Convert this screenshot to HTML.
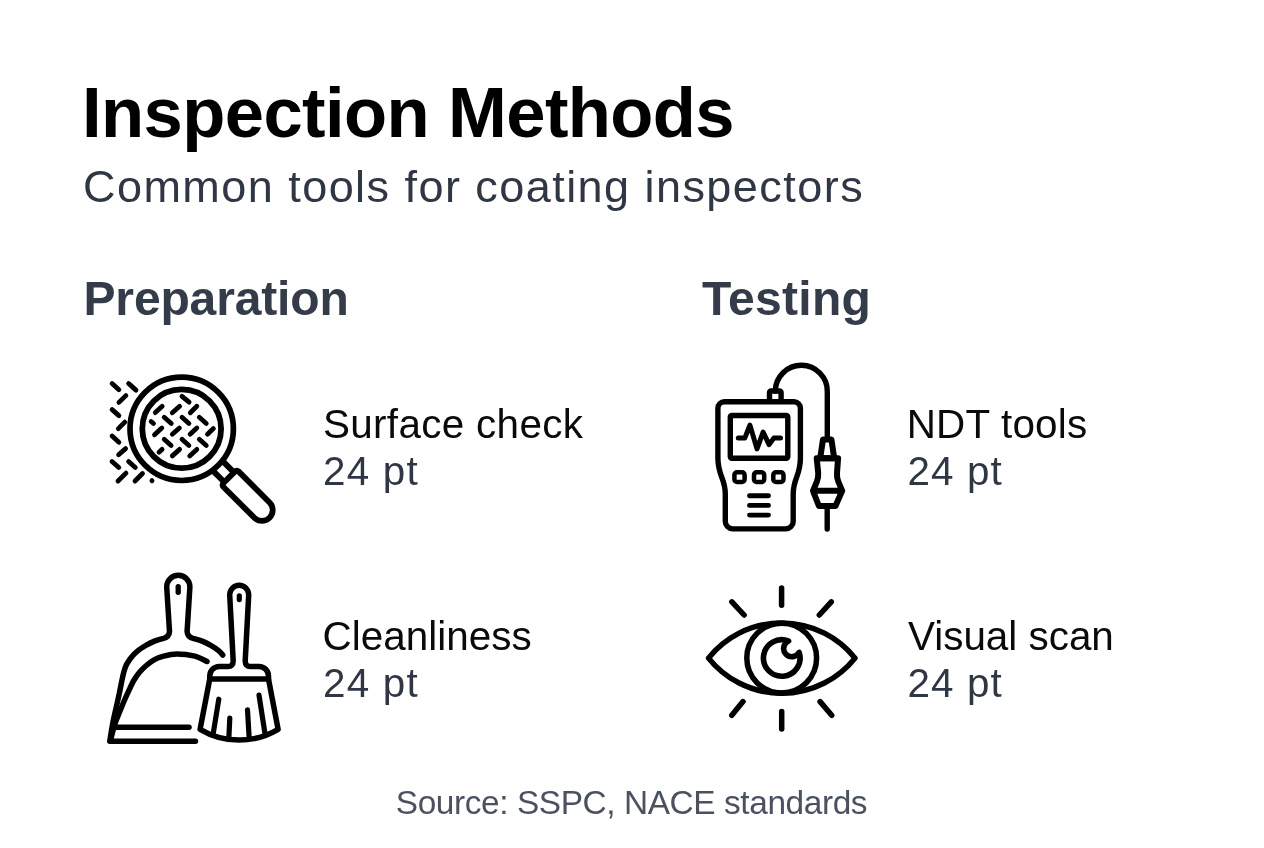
<!DOCTYPE html>
<html lang="en">
<head>
<meta charset="utf-8">
<title>Inspection Methods</title>
<style>
  html, body { margin: 0; padding: 0; }
  body {
    width: 1264px; height: 848px; overflow: hidden; position: relative;
    background: #ffffff;
    font-family: "Liberation Sans", sans-serif;
    color: #000;
  }
  .t { position: absolute; white-space: nowrap; line-height: 1; margin: 0; font-weight: 400; }
  h1.t { font-weight: 700; font-size: 70.6px; left: 82px; top: 78px; color: #000; letter-spacing: -0.6px; }
  .sub { font-size: 45px; left: 83px; top: 164px; color: #2f3745; letter-spacing: 1.45px; }
  h2.t { font-weight: 700; font-size: 48px; color: #343b49; top: 275px; }
  .lbl { font-size: 40.4px; color: #0a0a0a; }
  .val { font-size: 40.4px; color: #2f3745; }
  .foot { font-size: 33.4px; color: #4a5160; left: 395.8px; top: 785.5px; letter-spacing: -0.4px; }
  svg.ic { position: absolute; left: 0; top: 0; overflow: visible; }
</style>
</head>
<body>
  <h1 class="t" id="title">Inspection Methods</h1>
  <p class="t sub" id="sub">Common tools for coating inspectors</p>

  <h2 class="t" id="h-prep" style="left:83.5px;letter-spacing:-0.15px">Preparation</h2>
  <h2 class="t" id="h-test" style="left:702px;letter-spacing:0.3px">Testing</h2>

  <div class="t lbl" id="l1" style="left:323px;top:404px;letter-spacing:0.33px">Surface check</div>
  <div class="t val" id="v1" style="left:323px;top:451px;letter-spacing:1.2px">24 pt</div>

  <div class="t lbl" id="l2" style="left:906.7px;top:404px;letter-spacing:0.2px">NDT tools</div>
  <div class="t val" id="v2" style="left:907.5px;top:451px;letter-spacing:1.1px">24 pt</div>

  <div class="t lbl" id="l3" style="left:322.5px;top:615.6px;letter-spacing:0.05px">Cleanliness</div>
  <div class="t val" id="v3" style="left:323px;top:663px;letter-spacing:1.2px">24 pt</div>

  <div class="t lbl" id="l4" style="left:908px;top:615.6px">Visual scan</div>
  <div class="t val" id="v4" style="left:907.5px;top:663px;letter-spacing:1.1px">24 pt</div>


  <svg class="ic" width="1264" height="848" viewBox="0 0 1264 848" fill="none" stroke="#000" stroke-linecap="round" stroke-linejoin="round">
    <!-- icon 1: magnifier over textured surface -->
    <g id="ic-surface">
      <circle cx="181.7" cy="428.8" r="51.7" stroke-width="5.7"/>
      <circle cx="181.7" cy="428.8" r="39.4" stroke-width="5.8"/>
      <g transform="translate(181.7 428.8) rotate(45)" stroke-width="5.8">
        <path d="M54 -6.1L67 -6.1M54 7.6L67 7.6"/>
        <path d="M70.3 -10.05H114.2A10.8 10.8 0 0 1 114.2 11.55H70.3A2.4 2.4 0 0 1 67.9 9.15V-7.65A2.4 2.4 0 0 1 70.3 -10.05Z"/>
      </g>
      <path stroke-width="4.8" d="M112.1 383.5L118.9 389.7M128.6 383.5L136.0 390.1M118.9 402.4L125.9 395.6M112.1 409.6L118.9 415.6M118.3 428.6L124.8 422.1M112.1 436.0L118.9 442.3M118.6 454.7L125.6 448.6M182.0 396.3L189.1 402.2M155.3 412.6L162.2 406.3M172.3 412.8L179.6 406.3M190.3 412.8L196.8 406.3M151.1 421.5L153.5 423.5M164.2 417.3L171.3 423.5M182.0 417.3L188.9 423.5M199.3 417.3L206.3 423.5M154.5 434.8L161.8 428.0M172.3 434.2L179.4 428.0M190.1 434.2L196.8 428.0M207.5 434.2L213.4 428.6M164.2 439.3L171.1 445.5M182.0 439.3L188.9 445.5M199.3 439.3L206.3 445.5M159.0 452.2L162.1 449.4M172.3 455.9L179.6 449.4M189.7 455.9L196.8 449.4M112.0 461.5L118.8 467.5M128.6 461.5L135.3 467.5M118.0 481.0L126.0 473.1M135.0 481.0L142.5 473.5M151.9 480.6L152 480.7"/>
    </g>
    <!-- icon 2: NDT handheld gauge with probe -->
    <g id="ic-ndt" stroke-width="5.4">
      <path d="M724.4 401.7H793.9a6.5 6.5 0 0 1 6.5 6.5V458C800.4 476 793.2 478 793.2 494V521.4a7.5 7.5 0 0 1 -7.5 7.5H732.8a7.5 7.5 0 0 1 -7.5 -7.5V494C725.3 478 717.9 476 717.9 458V408.2a6.5 6.5 0 0 1 6.5 -6.5Z"/>
      <rect x="730.3" y="415.5" width="57.5" height="42.8" rx="1.5"/>
      <path d="M769.5 401V392.5a1.5 1.5 0 0 1 1.5 -1.5H779.6a1.5 1.5 0 0 1 1.5 1.5V401"/>
      <path d="M775.3 391A26 26 0 0 1 827.3 391.6V438"/>
      <path stroke-width="5" d="M738.3 438.1H744.8L749.9 425.1L757 448.9L763.1 432.1L769.1 444.6L773.8 438.1H780.5"/>
      <g stroke-width="4.9">
        <rect stroke-width="4.5" x="734.4" y="472.3" width="10.2" height="9.7" rx="2.6"/>
        <rect stroke-width="4.5" x="754" y="472.3" width="10.2" height="9.7" rx="2.6"/>
        <rect stroke-width="4.5" x="773.3" y="472.3" width="10.2" height="9.7" rx="2.6"/>
        <path d="M749.5 495.75H768.5M749.5 505.4H768.5M749.5 515.1H768.5"/>
      </g>
      <path stroke-width="6" d="M823 439.4H831.4L834.2 458.3H820.2Z"/>
      <path stroke-width="6" d="M816.7 458.3H838.1L837 473Q836.7 477.5 838.3 481.5L842.2 490.8L835.5 506H818.9L813 490.8L816.9 481.5Q818.5 477.5 818.2 473ZM813 490.8H842.2"/>
      <path d="M827.2 506V529"/>
    </g>
    <!-- icon 3: dustpan and brush -->
    <g id="ic-clean" stroke-width="5.5">
      <path d="M222.7 655.0C222.0 654.3 220.7 652.2 218.6 650.6C216.5 649.0 213.1 646.8 210.3 645.2C207.6 643.6 204.9 642.2 202.1 641.1C199.4 640.0 195.2 639.0 193.8 638.6Q187.5 637.4 187.1 631.5L189.9 586.9A11.6 11.6 0 0 0 166.7 586.9L169.5 631.5Q169.1 637.4 162.8 638.6C161.4 639.0 157.2 640.0 154.5 641.1C151.8 642.2 149.1 643.6 146.3 645.2C143.6 646.8 140.5 648.6 138.0 650.6C135.5 652.6 133.3 654.9 131.4 657.2C129.5 659.5 127.8 662.0 126.5 664.6C125.2 667.2 124.4 670.1 123.6 672.9C122.8 675.7 122.4 678.1 121.7 681.5C121.0 684.9 120.2 689.2 119.3 693.5C118.4 697.8 117.4 702.1 116.3 707.0C115.2 711.9 113.9 717.2 112.8 722.9C111.7 728.6 110.3 738.2 109.8 741.2H195.5"/>
      <path d="M207.0 661.5C205.0 660.6 199.9 657.5 194.9 656.2C189.9 654.9 182.2 653.9 176.8 653.9C171.5 653.9 166.5 655.4 162.8 656.4C159.1 657.4 157.2 658.2 154.5 659.7C151.8 661.2 148.8 663.4 146.3 665.5C143.8 667.6 141.8 669.6 139.7 672.1C137.6 674.6 135.6 677.5 133.9 680.3C132.2 683.0 131.3 685.4 129.8 688.6C128.3 691.8 126.6 695.4 124.8 699.5C123.0 703.6 120.8 709.1 119.2 713.0C117.6 716.9 116.4 719.6 115.3 722.9C114.2 726.2 113.2 729.8 112.4 732.8C111.6 735.8 110.8 739.6 110.5 741.0"/>
      <path d="M115.5 727.2H189"/>
      <path stroke-width="5.3" d="M178.2 586.6V592.3"/>
      <path d="M209.75 678.9V676A9.5 9.5 0 0 1 219.25 666.5H228Q233 666.5 233.2 661L229.7 594.8A9.5 9.5 0 0 1 248.7 594.8L245.2 661Q245.4 666.5 250.4 666.5H259A9.5 9.5 0 0 1 268.5 676V678.9"/>
      <path d="M209.75 678.9L200.1 729.3A76 76 0 0 0 278.1 729.3L268.5 678.9Z"/>
      <path stroke-width="5.2" d="M239.3 595.8V599.6"/>
      <path stroke-width="5.2" d="M218.8 699.2L213.3 733M229.8 718.1L228.9 737M247.5 709.8L249.2 738.5M259 695.1L264.9 733"/>
    </g>
    <!-- icon 4: eye with rays -->
    <g id="ic-visual" stroke-width="5.5">
      <path d="M708.5 658.1A93.8 93.8 0 0 1 855 658.1A93.8 93.8 0 0 1 708.5 658.1Z"/>
      <circle cx="781.7" cy="658.1" r="34.9"/>
      <path stroke-width="5.6" d="M788.6 641A18.3 18.3 0 1 0 799.15 652.3A8.2 8.2 0 1 1 788.6 641Z"/>
      <path stroke-width="5.5" d="M781.6 587.9V605.2M781.7 711.5V729.1M744.1 615L731.9 601.8M819.3 615L831.3 601.8M743.0 701.6L731.8 715.3M820.1 701.6L831.7 715.3"/>
    </g>
  </svg>
  <div class="t foot" id="foot">Source: SSPC, NACE standards</div>
</body>
</html>
